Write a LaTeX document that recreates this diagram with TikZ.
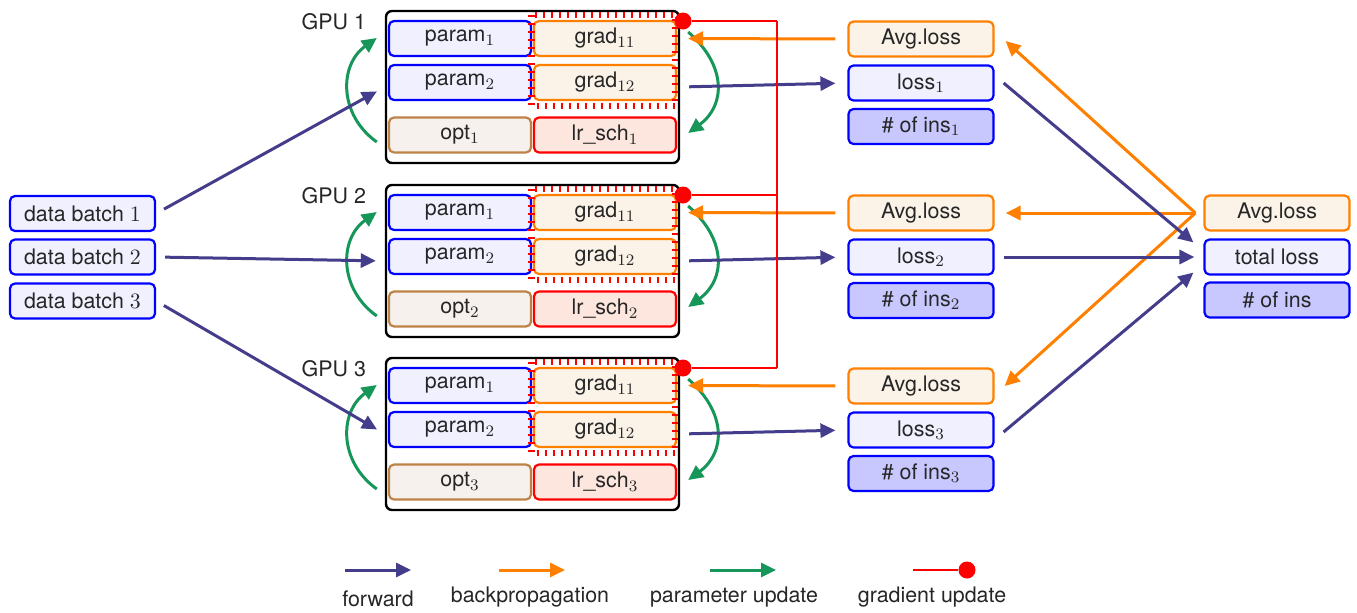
\documentclass[tikz,border=0pt]{standalone}
\usepackage{fontspec}
\setmainfont{TeX Gyre Heros}
\DeclareMathSizes{10.7}{10.7}{8.3}{6.5}
\usetikzlibrary{arrows.meta}
\definecolor{fwdc}{RGB}{68,61,139}
\definecolor{bwdc}{RGB}{255,128,0}
\definecolor{updc}{RGB}{22,150,88}
\definecolor{gred}{RGB}{255,0,0}
\definecolor{pblue}{RGB}{0,0,255}
\definecolor{pfill}{RGB}{240,240,255}
\definecolor{gfill}{RGB}{252,243,232}
\definecolor{ofill}{RGB}{246,241,237}
\definecolor{odraw}{RGB}{190,130,70}
\definecolor{lfill}{RGB}{252,230,222}
\definecolor{nfill}{RGB}{200,200,255}
\begin{document}
\begin{tikzpicture}[x=0.5pt,y=-0.5pt,
  every node/.style={font=\fontsize{10.7}{12}\selectfont, text=black!85},
  cell/.style={draw, rounded corners=2.5pt, line width=1.1pt, minimum width=71pt, minimum height=17.5pt, inner sep=0pt},
  pcell/.style={cell, draw=pblue, fill=pfill},
  gcell/.style={cell, draw=bwdc, fill=gfill},
  ocell/.style={cell, draw=odraw, fill=ofill},
  lcell/.style={cell, draw=gred, fill=lfill},
  ncell/.style={cell, draw=pblue, fill=nfill},
  wide/.style={minimum width=72.5pt},
  gpubox/.style={draw=black, line width=1.2pt, rounded corners=3pt, fill=white, minimum width=146.5pt, minimum height=76pt, inner sep=0pt},
  arrowtip/.style={-{Triangle[length=7.5pt,width=7pt]}},
  fwdarrow/.style={arrowtip, draw=fwdc, line width=1.5pt},
  bwdarrow/.style={arrowtip, draw=bwdc, line width=1.5pt},
  updarrow/.style={arrowtip, draw=updc, line width=1.5pt},
  gradline/.style={draw=gred, line width=0.8pt},
  gradtick/.style={draw=gred, line width=3.2pt, dash pattern=on 1pt off 3pt},
  gdot/.style={circle, fill=gred, minimum size=8.5pt, inner sep=0pt},
]
\useasboundingbox (0,0) rectangle (1357,612);

% data batches
\node[pcell, wide] (db1) at (82.5,213.5) {data batch $1$};
\node[pcell, wide] (db2) at (82.5,257) {data batch $2$};
\node[pcell, wide] (db3) at (82.5,301) {data batch $3$};

% GPUs
\foreach \g/\off in {1/0,2/174,3/347}{
  \node[gpubox] (gpu\g) at (532.5,{87+\off}) {};
  \node[anchor=east] (lab\g) at (373,{22+\off}) {GPU \g};
  \node[pcell] (pa\g) at (460,{38.5+\off}) {param$_{1}$};
  \node[gcell] (ga\g) at (605,{38.5+\off}) {grad$_{11}$};
  \node[pcell] (pb\g) at (460,{82.5+\off}) {param$_{2}$};
  \node[gcell] (gb\g) at (605,{82.5+\off}) {grad$_{12}$};
  \node[ocell] (op\g) at (460,{135+\off}) {opt$_{\g}$};
  \node[lcell] (lr\g) at (605,{135+\off}) {lr\_sch$_{\g}$};
  \draw[gradtick] (531.5,{15+\off}) rectangle (675,{106+\off});
  % middle column
  \node[gcell, wide] (av\g) at (921,{39+\off}) {Avg.loss};
  \node[pcell, wide] (lo\g) at (921,{83+\off}) {loss$_{\g}$};
  \node[ncell, wide] (ni\g) at (921,{126.5+\off}) {\# of ins$_{\g}$};
  % parameter update
  \draw[updarrow] ([shift={(-8,55)}]gpu\g.west) .. controls +(-38,-27) and +(-38,27) .. ([shift={(-8,-49)}]gpu\g.west);
  \draw[updarrow] ([shift={(8,-55)}]gpu\g.east) .. controls +(38,33) and +(38,-28) .. ([shift={(8,46)}]gpu\g.east);
  % forward / backward
  \draw[fwdarrow, shorten <=4.5pt, shorten >=4.5pt] (db\g.east) -- (gpu\g.west);
  \draw[fwdarrow, shorten <=4.5pt, shorten >=6pt] (gpu\g.east) -- (lo\g.west);
  \draw[bwdarrow, shorten <=6pt, shorten >=5.5pt] (av\g.west) -- (ga\g.east);
  % gradient update
  \coordinate (r\g) at (777,{21+\off});
  \node[gdot] (d\g) at (683,{21+\off}) {};
  \draw[gradline] (d\g) -- (r\g);
}
\draw[gradline] (r1) -- (r3);

% right column
\node[gcell, wide] (avT) at (1277,213) {Avg.loss};
\node[pcell, wide] (tl) at (1277,257) {total loss};
\node[ncell, wide] (niT) at (1277,300) {\# of ins};

\coordinate (bp) at ([shift={(-8,0)}]avT.west);
\draw[bwdarrow] (bp) -- ([shift={(11,2)}]av1.east);
\draw[bwdarrow] (bp) -- ([shift={(11,0)}]av2.east);
\draw[bwdarrow] (bp) -- ([shift={(10,0)}]av3.east);

\draw[fwdarrow] ([shift={(9,0)}]lo1.east) -- ([shift={(-10,4)}]tl.north west);
\draw[fwdarrow, shorten <=4.5pt, shorten >=4.5pt] (lo2.east) -- (tl.west);
\draw[fwdarrow] ([shift={(9,2)}]lo3.east) -- ([shift={(-10,-3)}]tl.south west);

% legend
\coordinate (lf1) at (345,570); \coordinate (lf2) at (411,570);
\draw[fwdarrow] (lf1) -- (lf2);
\node (lft) at (378,599) {forward};
\coordinate (lb1) at (499,570); \coordinate (lb2) at (565,570);
\draw[bwdarrow] (lb1) -- (lb2);
\node (lbt) at (530,597) {backpropagation};
\coordinate (lu1) at (710,570); \coordinate (lu2) at (776,570);
\draw[updarrow] (lu1) -- (lu2);
\node (lut) at (734,597) {parameter update};
\coordinate (lg1) at (913,570);
\node[gdot] (lgd) at (967,570) {};
\draw[gradline] (lg1) -- (lgd);
\node (lgt) at (932,597) {gradient update};
\end{tikzpicture}
\end{document}
